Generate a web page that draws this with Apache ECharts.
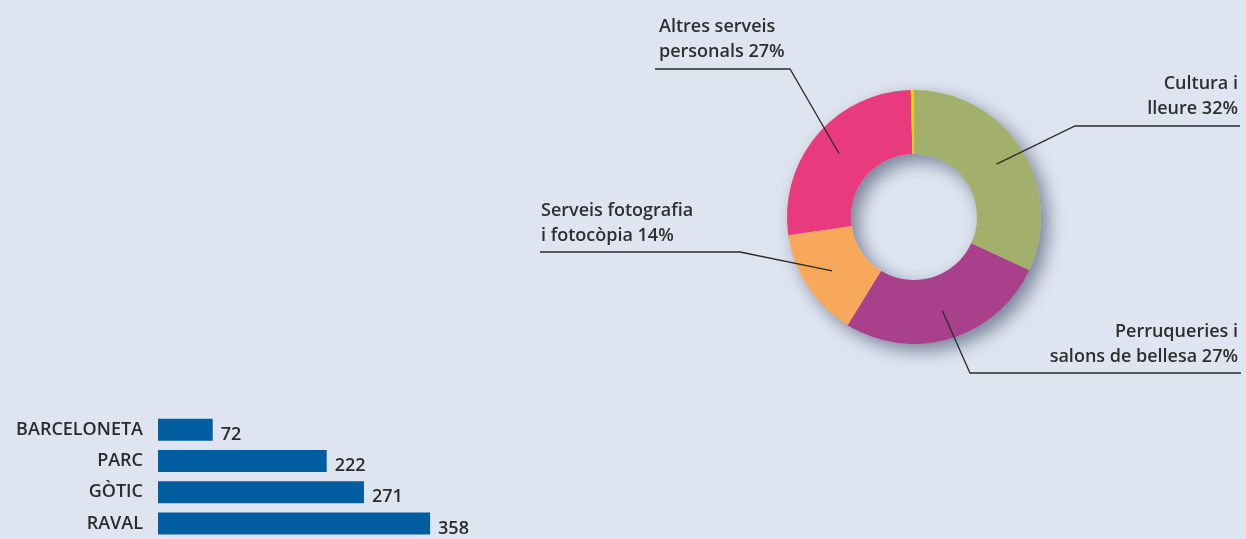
<!DOCTYPE html>
<html>
<head>
<meta charset="utf-8">
<script src="https://cdn.jsdelivr.net/npm/echarts@6/dist/echarts.min.js"></script>
<style>
  html, body { margin: 0; padding: 0; background: #dfe5f0; }
  #chart { width: 1246px; height: 539px; }
</style>
</head>
<body>
<div id="chart"></div>
<script>
// Activitats per tipus (percentatge)
const sectorNames = ['Cultura i\nlleure', 'Perruqueries i\nsalons de bellesa', 'Serveis fotografia\ni fotocòpia', 'Altres serveis\npersonals', ''];
const sectorValues = [32, 27, 14, 27, 0.4];
const sectorColors = ['#a2b06c', '#a8408b', '#f7a85a', '#ea3a7e', '#f2d400'];

// Establiments per barri
const districts = ['BARCELONETA', 'PARC', 'GÒTIC', 'RAVAL'];
const districtValues = [72, 222, 271, 358];

const FONT = '"Open Sans", "Noto Sans", sans-serif';
const TEXT = '#2b2b2b';
const CENTER = [914, 217];
const R_IN = 63, R_OUT = 127;

// Label boxes: bend of the leader line, end of the underline, text anchor
const labelBoxes = [
  { bend: [1075, 126], end: [1240, 126], tx: 1238, ty: 121, align: 'right' },
  { bend: [970, 373], end: [1241, 373], tx: 1238, ty: 369, align: 'right' },
  { bend: [740, 252], end: [540, 252], tx: 541, ty: 248, align: 'left' },
  { bend: [790, 69], end: [655, 69], tx: 659, ty: 64, align: 'left' }
];

const total = sectorValues.reduce((a, b) => a + b, 0);
function anchorPoint(i) {
  let before = 0;
  for (let k = 0; k < i; k++) before += sectorValues[k];
  const mid = (before + sectorValues[i] / 2) / total * Math.PI * 2;
  const r = 98;
  return [CENTER[0] + Math.sin(mid) * r, CENTER[1] - Math.cos(mid) * r];
}

const pieBase = {
  type: 'pie',
  center: CENTER, radius: [R_IN, R_OUT],
  startAngle: 90, clockwise: true,
  silent: true
};

const chart = echarts.init(document.getElementById('chart'), null, { renderer: 'canvas' });

chart.setOption({
  backgroundColor: '#dfe5f0',
  animation: false,
  grid: { left: 158, top: 414, width: 380, height: 128, containLabel: false },
  xAxis: {
    type: 'value', min: 0, max: 500,
    show: false
  },
  yAxis: {
    type: 'category', data: districts, inverse: true,
    axisLine: { show: false }, axisTick: { show: false },
    axisLabel: { color: TEXT, fontFamily: FONT, fontSize: 18, fontWeight: 600, margin: 15 }
  },
  series: [
    {
      type: 'bar',
      data: districtValues,
      barWidth: 22,
      itemStyle: { color: '#005ea0' },
      label: {
        show: true, position: 'right', distance: 8,
        color: TEXT, fontFamily: FONT, fontSize: 18, fontWeight: 600,
        offset: [0, 5]
      },
      silent: true
    },
    {
      // shadow ring underneath the donut
      type: 'pie',
      center: CENTER, radius: [R_IN, R_OUT],
      data: [{ value: total, name: '' }],
      label: { show: false }, labelLine: { show: false },
      itemStyle: {
        color: '#c9d1de',
        shadowBlur: 18, shadowColor: 'rgba(50,65,95,0.6)',
        shadowOffsetX: 7, shadowOffsetY: 7
      },
      silent: true, z: 1
    },
    Object.assign({}, pieBase, {
      // coloured sectors
      z: 2,
      data: sectorValues.map((v, i) => ({
        value: v, name: sectorNames[i],
        itemStyle: { color: sectorColors[i] }
      })),
      label: { show: false }, labelLine: { show: false }
    }),
    Object.assign({}, pieBase, {
      // transparent copy on top carrying the labels and leader lines
      z: 3,
      data: sectorValues.map((v, i) => ({
        value: v, name: sectorNames[i],
        itemStyle: { color: 'rgba(0,0,0,0)' },
        label: { show: i < 4 },
        labelLine: { show: i < 4 }
      })),
      label: {
        show: true,
        formatter: p => p.name + ' ' + p.value + '%',
        color: '#2e2e2e', fontFamily: FONT, fontSize: 18, fontWeight: 600,
        lineHeight: 25
      },
      labelLine: { show: true, showAbove: true, lineStyle: { color: '#2b2b2b', width: 1.3 } },
      labelLayout: function (params) {
        const b = labelBoxes[params.dataIndex];
        if (!b) return {};
        return {
          x: b.tx, y: b.ty, align: b.align, verticalAlign: 'bottom',
          labelLinePoints: [anchorPoint(params.dataIndex), b.bend, b.end]
        };
      }
    })
  ]
});
</script>
</body>
</html>
